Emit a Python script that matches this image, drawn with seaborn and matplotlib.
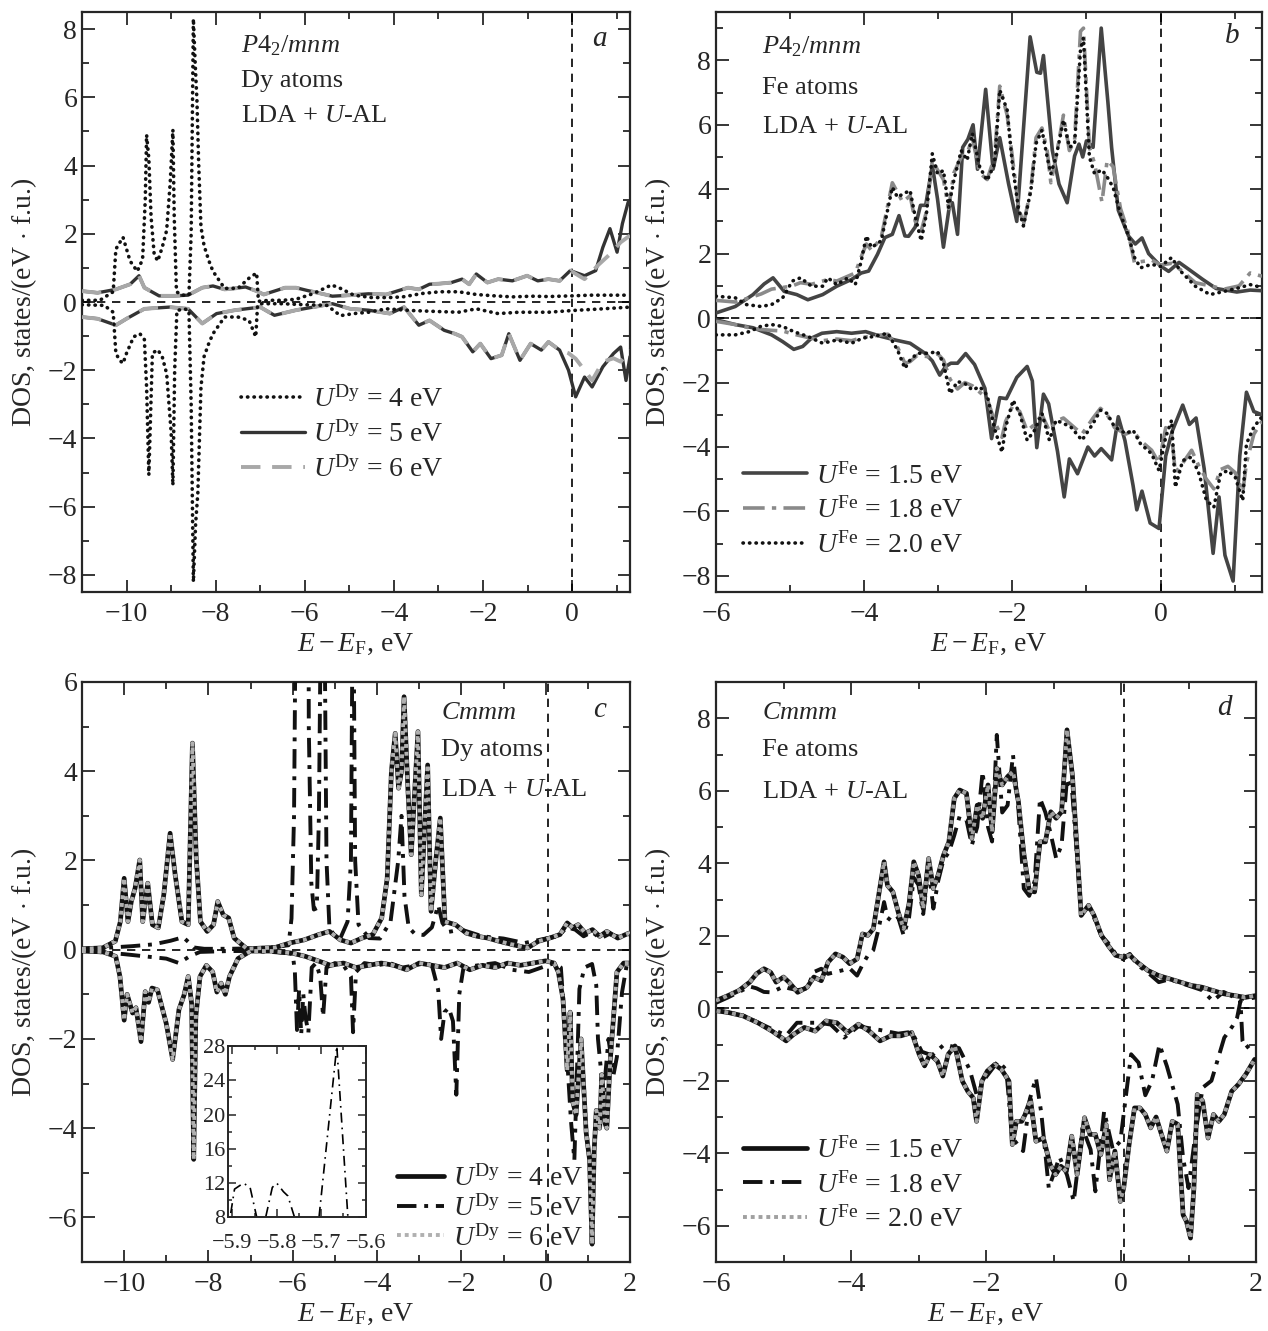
import numpy as np
import matplotlib
matplotlib.use("Agg")
import matplotlib.pyplot as plt
from matplotlib.ticker import MultipleLocator
import seaborn as sns

# ---------------- panel a: P4_2/mnm, Dy atoms ----------------
a_x4_up = [-11.0, -10.6, -10.3, -10.24, -10.08, -9.92, -9.76, -9.64, -9.58, -9.55, -9.5, -9.45, -9.38, -9.3,
           -9.2, -9.1, -9.02, -8.96, -8.93, -8.88, -8.75, -8.6, -8.55, -8.5, -8.46, -8.42, -8.38, -8.33, -8.26,
           -8.15, -8.06, -7.8, -7.5, -7.25, -7.08, -7.04, -6.8, -6.5, -6.2, -5.8, -5.4, -5.2, -4.9, -4.5, -4.1,
           -3.8, -3.36, -2.96, -2.55, -2.15, -1.74, -1.34, -0.9, -0.53, 0.0, 0.4, 0.69, 1.0, 1.3]
a_y4_up = [0.05, 0.05, 0.3, 1.55, 1.9, 1.2, 0.9, 1.25, 3.0, 4.9, 4.2, 2.5, 1.4, 1.2,
           1.6, 2.1, 3.5, 5.05, 2.5, 0.3, 0.2, 0.2, 2.0, 8.3, 7.0, 5.9, 4.0, 2.2, 1.65,
           1.2, 0.9, 0.4, 0.4, 0.7, 0.85, 0.02, 0.05, 0.05, 0.08, 0.25, 0.5, 0.4, 0.2, 0.13, 0.13,
           0.15, 0.25, 0.3, 0.3, 0.22, 0.18, 0.15, 0.17, 0.16, 0.18, 0.2, 0.2, 0.2, 0.2]
a_x4_dn = [-11.0, -10.5, -10.3, -10.24, -10.16, -10.08, -10.0, -9.84, -9.7, -9.6, -9.55, -9.5, -9.42, -9.3,
           -9.2, -9.1, -9.0, -8.96, -8.92, -8.87, -8.7, -8.6, -8.55, -8.5, -8.45, -8.4, -8.33, -8.26, -8.15,
           -8.06, -7.8, -7.5, -7.25, -7.1, -7.06, -7.0, -6.5, -6.0, -5.5, -5.2, -4.9, -4.57, -4.17, -3.6,
           -3.0, -2.55, -2.15, -1.66, -1.2, -0.53, 0.0, 0.69, 1.3]
a_y4_dn = [-0.08, -0.1, -0.3, -1.5, -1.7, -1.8, -1.5, -1.02, -0.93, -1.1, -2.5, -5.07, -1.5, -1.4,
           -1.6, -2.1, -3.8, -5.37, -2.0, -0.25, -0.2, -0.25, -3.0, -8.2, -6.5, -5.6, -2.5, -1.6, -1.2,
           -0.93, -0.44, -0.44, -0.54, -1.02, -0.1, -0.05, -0.05, -0.08, -0.1, -0.4, -0.34, -0.3, -0.2, -0.25,
           -0.28, -0.3, -0.2, -0.34, -0.3, -0.3, -0.25, -0.2, -0.15]

a_x5_up = [-11.0, -10.65, -10.24, -9.92, -9.72, -9.6, -9.27, -8.95, -8.62, -8.3, -8.06, -7.8, -7.57, -7.33,
           -7.08, -6.92, -6.68, -6.44, -6.2, -5.95, -5.71, -5.38, -4.98, -4.57, -4.17, -3.93, -3.68, -3.44,
           -3.2, -2.96, -2.71, -2.47, -2.31, -2.15, -1.9, -1.66, -1.34, -1.01, -0.77, -0.53, -0.28, -0.04,
           0.28, 0.53, 0.69, 0.85, 1.01, 1.13, 1.26, 1.3]
a_y5_up = [0.32, 0.27, 0.37, 0.52, 0.77, 0.42, 0.18, 0.18, 0.2, 0.42, 0.47, 0.37, 0.4, 0.44,
           0.32, 0.22, 0.32, 0.42, 0.42, 0.34, 0.27, 0.17, 0.2, 0.24, 0.22, 0.32, 0.42, 0.37,
           0.52, 0.54, 0.57, 0.67, 0.52, 0.82, 0.57, 0.67, 0.62, 0.77, 0.62, 0.67, 0.62, 0.92,
           0.77, 0.92, 1.6, 2.15, 1.46, 2.3, 2.93, 2.9]
a_x6_up = a_x5_up[:42] + [0.28, 0.6, 0.85, 1.09, 1.3]
a_y6_up = a_y5_up[:42] + [0.67, 1.1, 1.4, 1.75, 1.95]

a_x5_dn = [-11.0, -10.65, -10.24, -10.0, -9.6, -9.04, -8.62, -8.3, -7.98, -7.57, -7.0, -6.68, -6.2, -5.38,
           -4.98, -4.57, -4.09, -3.77, -3.44, -3.2, -2.87, -2.63, -2.47, -2.23, -2.06, -1.82, -1.58, -1.42,
           -1.17, -0.93, -0.69, -0.53, -0.28, -0.08, 0.08, 0.28, 0.45, 0.69, 0.93, 1.09, 1.21, 1.3]
a_y5_dn = [-0.44, -0.49, -0.68, -0.49, -0.2, -0.15, -0.2, -0.63, -0.34, -0.24, -0.15, -0.39, -0.24, -0.05,
           -0.2, -0.24, -0.34, -0.15, -0.68, -0.54, -0.83, -0.93, -1.02, -1.46, -1.22, -1.66, -1.56, -0.93,
           -1.71, -1.22, -1.41, -1.17, -1.41, -2.0, -2.78, -2.2, -2.49, -1.9, -1.51, -1.32, -2.3, -1.6]
a_x6_dn = a_x5_dn[:33] + [-0.08, 0.08, 0.28, 0.45, 0.69, 0.93, 1.09, 1.3]
a_y6_dn = a_y5_dn[:33] + [-1.5, -1.66, -2.0, -2.3, -1.75, -1.65, -1.75, -1.4]

# ---------------- panel b: P4_2/mnm, Fe atoms ----------------
b_x15_up = [-6.0, -5.74, -5.5, -5.35, -5.23, -5.08, -4.91, -4.76, -4.56, -4.37, -4.17, -4.04, -3.94, -3.82,
            -3.72, -3.62, -3.53, -3.45, -3.4, -3.31, -3.24, -3.17, -3.08, -3.01, -2.93, -2.85, -2.81, -2.74,
            -2.67, -2.6, -2.53, -2.47, -2.36, -2.26, -2.17, -2.05, -1.94, -1.76, -1.67, -1.62, -1.58, -1.46,
            -1.37, -1.26, -1.16, -1.1, -1.05, -1.0, -0.91, -0.8, -0.71, -0.66, -0.57, -0.43, -0.34, -0.25,
            -0.16, 0.0, 0.11, 0.25, 0.39, 0.57, 0.75, 1.03, 1.21, 1.37]
b_y15_up = [0.16, 0.36, 0.73, 1.06, 1.25, 0.83, 0.73, 0.57, 0.73, 0.99, 1.2, 1.4, 1.46, 1.98,
            2.5, 2.6, 3.18, 2.55, 2.54, 2.83, 3.5, 3.5, 4.74, 3.7, 2.2, 3.47, 3.58, 2.6,
            5.3, 5.55, 6.0, 4.62, 7.1, 4.62, 5.6, 4.16, 3.0, 8.73, 7.63, 7.6, 8.15, 5.2,
            4.16, 3.58, 5.03, 5.4, 5.0, 5.5, 5.3, 9.0, 6.7, 5.3, 3.35, 2.54, 2.3, 2.49,
            2.0, 1.62, 1.45, 1.73, 1.5, 1.2, 0.92, 0.81, 0.87, 0.85]
b_x15_dn = [-6.0, -5.74, -5.5, -5.25, -5.1, -4.95, -4.83, -4.71, -4.57, -4.37, -4.17, -3.98, -3.77, -3.58,
            -3.38, -3.18, -3.08, -2.98, -2.9, -2.83, -2.74, -2.63, -2.51, -2.37, -2.28, -2.17, -2.08, -1.94,
            -1.8, -1.73, -1.67, -1.58, -1.51, -1.39, -1.3, -1.23, -1.12, -0.98, -0.89, -0.8, -0.66, -0.57,
            -0.48, -0.37, -0.32, -0.25, -0.14, -0.02, 0.07, 0.16, 0.3, 0.39, 0.48, 0.59, 0.71, 0.79, 0.87,
            0.98, 1.07, 1.16, 1.26, 1.37]
b_y15_dn = [-0.05, -0.2, -0.3, -0.52, -0.73, -0.97, -0.88, -0.62, -0.47, -0.42, -0.47, -0.42, -0.57, -0.68,
            -0.78, -1.09, -1.33, -1.77, -1.5, -1.4, -1.4, -1.1, -1.44, -2.18, -3.74, -2.47, -2.5, -1.84,
            -1.5, -1.95, -4.02, -2.36, -2.66, -4.14, -5.55, -4.37, -4.83, -4.0, -4.28, -4.05, -4.4, -3.06,
            -3.8, -5.2, -5.95, -5.37, -6.36, -6.53, -4.28, -3.5, -2.7, -3.3, -3.1, -4.68, -7.3, -5.55, -7.36,
            -8.16, -4.28, -2.3, -2.9, -3.0]

b_x_up = [-6.0, -5.74, -5.59, -5.39, -5.25, -5.1, -4.97, -4.86, -4.71, -4.56, -4.49, -4.37, -4.22, -4.12,
          -4.04, -3.97, -3.9, -3.77, -3.62, -3.55, -3.48, -3.38, -3.31, -3.23, -3.16, -3.08, -3.01, -2.93,
          -2.86, -2.79, -2.69, -2.61, -2.54, -2.44, -2.34, -2.24, -2.17, -2.07, -2.0, -1.92, -1.85, -1.75,
          -1.68, -1.6, -1.53, -1.48, -1.41, -1.31, -1.23, -1.16, -1.08, -1.04, -0.96, -0.89, -0.79, -0.72,
          -0.64, -0.54, -0.44, -0.35, -0.27, -0.12, 0.0, 0.15, 0.27, 0.47, 0.67, 0.86, 1.06, 1.21, 1.37]
b_y20_up = [0.68, 0.63, 0.42, 0.36, 0.42, 0.63, 1.15, 1.25, 0.99, 0.99, 1.25, 1.04, 1.25, 1.04,
            1.77, 2.55, 2.19, 2.4, 4.06, 3.75, 3.85, 3.96, 3.13, 2.4, 3.23, 5.1, 4.48, 4.58,
            3.44, 4.27, 5.2, 4.9, 5.73, 4.69, 4.27, 4.79, 7.08, 6.46, 4.79, 3.44, 2.86, 3.96,
            5.42, 5.83, 5.0, 4.48, 5.0, 6.15, 5.3, 5.4, 8.33, 8.7, 5.0, 4.48, 4.6, 4.38,
            4.06, 3.23, 2.6, 1.88, 1.56, 1.67, 1.6, 1.88, 1.46, 0.99, 0.73, 0.83, 0.94, 1.04, 0.95]
b_y18_up = [0.55, 0.5, 0.6, 0.75, 0.9, 0.95, 1.0, 1.1, 1.05, 1.15, 1.2, 1.15, 1.3, 1.4,
            1.9, 2.3, 2.1, 2.5, 4.2, 3.9, 3.6, 3.8, 3.0, 2.7, 3.3, 4.9, 4.6, 4.3,
            3.4, 4.5, 5.0, 5.1, 5.6, 4.5, 4.3, 5.0, 7.2, 6.3, 5.0, 3.5, 2.9, 4.0,
            5.6, 5.9, 5.2, 4.2, 5.0, 6.3, 5.2, 5.5, 8.9, 9.0, 5.3, 4.8, 3.6, 4.9,
            4.7, 3.4, 2.7, 1.7, 1.75, 1.8, 1.65, 1.7, 1.5, 1.1, 1.0, 0.9, 1.0, 1.4, 1.3]

b_x_dn = [-6.0, -5.74, -5.55, -5.4, -5.25, -5.1, -4.95, -4.76, -4.56, -4.37, -4.17, -4.02, -3.87, -3.68,
          -3.55, -3.45, -3.38, -3.28, -3.13, -3.01, -2.93, -2.84, -2.74, -2.64, -2.54, -2.44, -2.34, -2.24,
          -2.14, -2.09, -1.99, -1.9, -1.8, -1.7, -1.6, -1.5, -1.41, -1.31, -1.21, -1.06, -0.91, -0.81,
          -0.72, -0.62, -0.47, -0.37, -0.27, -0.12, -0.02, 0.07, 0.15, 0.2, 0.3, 0.42, 0.52, 0.62, 0.72,
          0.81, 0.91, 1.01, 1.11, 1.16, 1.26, 1.37]
b_y20_dn = [-0.52, -0.52, -0.42, -0.26, -0.2, -0.26, -0.42, -0.57, -0.78, -0.68, -0.78, -0.62, -0.57, -0.47,
            -0.99, -1.56, -1.3, -1.09, -1.09, -1.04, -1.4, -2.34, -1.97, -2.03, -2.23, -2.13, -2.39, -3.43,
            -4.16, -3.38, -2.55, -2.96, -3.79, -3.48, -2.96, -3.79, -3.17, -3.27, -3.38, -3.79, -3.27, -2.86,
            -2.96, -3.38, -3.58, -3.48, -3.9, -4.21, -4.73, -3.69, -3.17, -5.25, -4.42, -4.31, -4.83, -5.66,
            -5.87, -4.83, -4.73, -4.94, -5.66, -3.9, -3.38, -3.06]
b_y18_dn = [-0.1, -0.2, -0.3, -0.35, -0.38, -0.4, -0.5, -0.6, -0.7, -0.65, -0.7, -0.6, -0.55, -0.5,
            -0.9, -1.4, -1.35, -1.15, -1.2, -1.1, -1.3, -1.9, -2.2, -2.0, -2.1, -2.3, -2.5, -3.2,
            -3.7, -3.2, -2.7, -2.9, -3.5, -3.3, -3.0, -3.5, -3.2, -3.1, -3.3, -3.6, -3.1, -2.8,
            -3.0, -3.4, -3.6, -3.5, -3.8, -4.1, -4.5, -3.4, -3.6, -4.8, -4.5, -4.1, -4.6, -5.0,
            -5.3, -4.7, -4.6, -4.8, -5.4, -4.5, -3.6, -3.2]

# ---------------- panel c: Cmmm, Dy atoms ----------------
# U = 4 eV and U = 6 eV coincide
c_x46_up = [-11.0, -10.51, -10.21, -10.09, -10.0, -9.91, -9.83, -9.74, -9.63, -9.56, -9.44, -9.33, -9.19,
            -9.06, -8.91, -8.79, -8.63, -8.48, -8.38, -8.29, -8.19, -8.03, -7.88, -7.78, -7.65, -7.52,
            -7.39, -7.09, -6.41, -6.07, -5.73, -5.38, -5.13, -4.87, -4.62, -4.36, -4.1, -3.89, -3.76,
            -3.66, -3.57, -3.49, -3.42, -3.36, -3.27, -3.19, -3.03, -2.95, -2.8, -2.72, -2.61, -2.5, -2.39,
            -2.14, -1.88, -1.62, -1.37, -1.11, -0.77, -0.43, -0.17, 0.09, 0.34, 0.51, 0.64, 0.77, 0.94,
            1.11, 1.28, 1.45, 1.71, 1.97, 2.0]
c_y46_up = [0.02, 0.04, 0.19, 0.63, 1.6, 0.63, 1.08, 1.38, 2.01, 0.63, 1.49, 0.56, 0.49,
            1.23, 2.61, 1.68, 0.63, 0.56, 4.63, 2.05, 0.63, 0.41, 0.56, 1.08, 0.78, 0.71,
            0.26, 0.02, 0.05, 0.15, 0.22, 0.34, 0.41, 0.22, 0.15, 0.26, 0.34, 0.71, 1.6,
            4.0, 4.85, 3.62, 4.0, 5.67, 3.62, 2.13, 4.89, 1.23, 4.14, 0.86, 1.98, 2.95, 0.63,
            0.56, 0.37, 0.3, 0.26, 0.19, 0.11, 0.04, 0.19, 0.26, 0.34, 0.6, 0.49, 0.56, 0.37,
            0.45, 0.3, 0.41, 0.26, 0.37, 0.35]
c_x46_dn = [-11.0, -10.5, -10.2, -10.1, -10.0, -9.93, -9.8, -9.72, -9.6, -9.5, -9.42, -9.34, -9.21, -9.0,
            -8.85, -8.7, -8.58, -8.48, -8.4, -8.35, -8.3, -8.2, -8.05, -7.9, -7.8, -7.7, -7.6, -7.5, -7.3,
            -7.0, -6.5, -6.0, -5.7, -5.4, -5.1, -4.8, -4.5, -4.2, -3.9, -3.6, -3.3, -3.0, -2.7, -2.4, -2.1,
            -1.8, -1.5, -1.2, -0.9, -0.6, -0.3, 0.0, 0.2, 0.3, 0.41, 0.51, 0.58, 0.64, 0.72, 0.84, 0.96,
            1.04, 1.1, 1.15, 1.2, 1.28, 1.33, 1.41, 1.45, 1.53, 1.69, 1.85, 2.0]
c_y46_dn = [-0.03, -0.05, -0.15, -0.6, -1.58, -1.0, -1.42, -1.3, -2.06, -0.94, -1.18, -0.86, -0.9, -1.66,
            -2.46, -1.34, -1.02, -0.6, -1.2, -4.7, -1.5, -0.6, -0.35, -0.5, -0.95, -0.75, -1.0, -0.6, -0.2,
            -0.03, -0.03, -0.08, -0.15, -0.25, -0.35, -0.3, -0.4, -0.35, -0.3, -0.35, -0.45, -0.3, -0.35,
            -0.4, -0.3, -0.45, -0.35, -0.4, -0.3, -0.35, -0.3, -0.25, -0.3, -0.5, -1.1, -2.7, -1.4, -3.4,
            -3.7, -2.0, -4.1, -4.7, -6.6, -4.5, -3.6, -4.0, -2.8, -3.9, -4.0, -2.5, -0.5, -0.3, -0.3]

c_x5_up = [-11.0, -10.3, -9.8, -9.3, -8.9, -8.6, -8.45, -8.35, -8.1, -7.5, -7.0, -6.5, -6.1, -6.03, -5.97,
           -5.92, -5.885, -5.84, -5.8, -5.76, -5.72, -5.665, -5.62, -5.56, -5.5, -5.43, -5.38, -5.32, -5.26,
           -5.2, -5.13, -5.0, -4.87, -4.7, -4.62, -4.57, -4.52, -4.44, -4.19, -3.93, -3.68, -3.5, -3.42,
           -3.35, -3.25, -3.1, -2.9, -2.7, -2.55, -2.45, -2.3, -2.0, -1.5, -1.0, -0.5, 0.0, 0.3, 0.5, 0.7,
           0.9, 1.1, 1.3, 1.5, 1.7, 1.9, 2.0]
c_y5_up = [0.02, 0.05, 0.08, 0.12, 0.2, 0.28, 0.15, 0.05, 0.02, 0.02, 0.03, 0.05, 0.1, 0.7, 3.0,
           9.0, 12.0, 7.5, 12.0, 7.5, 6.5, 28.0, 5.0, 1.5, 0.9, 0.93, 3.0, 9.0, 9.0,
           2.0, 0.49, 0.3, 0.26, 0.63, 2.0, 9.0, 2.0, 0.56, 0.26, 0.25, 0.63, 1.98, 3.0,
           1.2, 0.5, 0.35, 0.33, 0.5, 1.0, 0.6, 0.4, 0.45, 0.3, 0.25, 0.15, 0.25, 0.3, 0.5, 0.45,
           0.3, 0.4, 0.25, 0.35, 0.3, 0.25, 0.3]
c_x5_dn = [-11.0, -10.0, -9.5, -9.0, -8.7, -8.45, -8.2, -7.5, -7.0, -6.5, -6.1, -6.0, -5.95, -5.9, -5.85,
           -5.8, -5.75, -5.7, -5.63, -5.55, -5.45, -5.35, -5.28, -5.2, -5.0, -4.8, -4.62, -4.57, -4.5, -4.3,
           -4.0, -3.7, -3.4, -3.1, -2.85, -2.7, -2.55, -2.48, -2.4, -2.3, -2.2, -2.12, -2.05, -1.95, -1.6,
           -1.2, -0.8, -0.4, -0.1, 0.2, 0.36, 0.48, 0.6, 0.68, 0.8, 0.92, 1.1, 1.2, 1.24, 1.37, 1.49, 1.61,
           1.69, 1.81, 1.93, 2.0]
c_y5_dn = [-0.02, -0.1, -0.15, -0.2, -0.3, -0.15, -0.05, -0.03, -0.03, -0.05, -0.08, -0.1, -0.5, -1.8, -0.9,
           -1.9, -1.0, -1.5, -1.86, -0.4, -0.3, -0.6, -1.5, -0.4, -0.3, -0.35, -0.6, -1.85, -0.5, -0.3,
           -0.35, -0.3, -0.4, -0.35, -0.3, -0.35, -0.9, -2.0, -1.4, -1.3, -1.6, -3.25, -1.0, -0.4, -0.35,
           -0.3, -0.45, -0.5, -0.4, -0.3, -0.4, -2.0, -3.84, -4.72, -0.88, -0.4, -0.32, -0.8, -2.0, -3.28,
           -2.0, -2.8, -2.4, -0.96, -0.3, -0.3]

# inset of panel c (U = 5 eV near -5.75 eV)
ins_x = [-5.91, -5.905, -5.895, -5.875, -5.86, -5.845, -5.835, -5.825, -5.81, -5.8, -5.785, -5.775, -5.76,
         -5.74, -5.72, -5.705, -5.665, -5.64, -5.62]
ins_y = [6.0, 8.0, 11.3, 12.0, 11.5, 8.0, 7.5, 8.0, 11.5, 12.0, 11.0, 10.5, 8.0,
         7.0, 7.0, 8.0, 28.0, 8.0, 5.0]

# ---------------- panel d: Cmmm, Fe atoms ----------------
# U = 1.5 eV and U = 2.0 eV coincide
d_x_up = [-6.0, -5.82, -5.66, -5.5, -5.4, -5.29, -5.19, -5.11, -5.0, -4.92, -4.79, -4.65, -4.55, -4.44,
          -4.34, -4.23, -4.12, -4.02, -3.91, -3.83, -3.75, -3.67, -3.59, -3.51, -3.46, -3.38, -3.3, -3.22,
          -3.14, -3.07, -3.0, -2.93, -2.85, -2.78, -2.71, -2.63, -2.55, -2.47, -2.39, -2.29, -2.21, -2.13,
          -2.05, -1.97, -1.91, -1.84, -1.76, -1.68, -1.6, -1.52, -1.44, -1.36, -1.28, -1.2, -1.12, -1.04,
          -0.96, -0.88, -0.8, -0.72, -0.64, -0.59, -0.48, -0.4, -0.29, -0.19, -0.08, 0.03, 0.13, 0.24,
          0.4, 0.56, 0.72, 0.88, 1.04, 1.2, 1.36, 1.52, 1.68, 1.84, 2.0]
d_y15_up = [0.21, 0.35, 0.49, 0.72, 0.95, 1.09, 0.99, 0.72, 0.86, 0.72, 0.44, 0.58, 0.86, 0.76,
            1.27, 1.5, 1.41, 1.23, 1.36, 2.05, 2.01, 2.19, 3.12, 4.04, 3.39, 3.21, 2.65, 2.19,
            2.88, 4.04, 3.67, 2.75, 4.13, 3.3, 3.67, 4.22, 4.59, 5.79, 6.02, 5.93, 4.68, 5.6,
            5.24, 6.16, 4.87, 6.62, 6.16, 6.39, 6.53, 5.7, 4.27, 3.25, 3.21, 4.59, 4.59, 5.42,
            5.24, 5.42, 7.68, 6.43, 4.04, 2.56, 2.84, 2.56, 2.01, 1.73, 1.46, 1.41, 1.46, 1.27,
            1.04, 0.9, 0.81, 0.72, 0.63, 0.58, 0.49, 0.4, 0.35, 0.3, 0.35]
d_y18_up = [0.15, 0.3, 0.45, 0.6, 0.55, 0.45, 0.44, 0.5, 0.6, 0.55, 0.5, 0.55, 1.0, 1.09,
            0.95, 1.0, 1.05, 1.1, 0.9, 1.2, 1.46, 1.6, 2.2, 2.93, 2.5, 2.38, 2.5, 2.01,
            2.5, 3.6, 3.4, 2.6, 3.9, 2.75, 3.5, 4.1, 4.3, 4.77, 5.3, 5.2, 4.5, 5.0,
            6.53, 5.0, 4.6, 7.54, 5.4, 5.6, 6.99, 5.5, 3.3, 3.1, 3.5, 5.79, 5.4, 4.8,
            4.13, 4.5, 6.34, 5.9, 3.9, 2.6, 2.8, 2.5, 2.0, 1.8, 1.5, 1.35, 1.5, 1.2,
            0.98, 0.72, 0.8, 0.7, 0.6, 0.5, 0.2, 0.45, 0.3, 0.25, 0.3]
d_x15_dn = [-5.99, -5.81, -5.6, -5.38, -5.17, -4.96, -4.85, -4.69, -4.53, -4.37, -4.21, -4.05, -3.89, -3.73,
            -3.57, -3.41, -3.26, -3.1, -2.99, -2.91, -2.83, -2.72, -2.64, -2.56, -2.46, -2.35, -2.27, -2.19,
            -2.14, -2.06, -1.98, -1.87, -1.77, -1.66, -1.61, -1.55, -1.47, -1.42, -1.34, -1.26, -1.15, -1.05,
            -0.97, -0.89, -0.81, -0.73, -0.65, -0.54, -0.46, -0.38, -0.3, -0.22, -0.17, -0.09, -0.01, 0.04,
            0.12, 0.2, 0.28, 0.36, 0.44, 0.52, 0.6, 0.68, 0.76, 0.84, 0.92, 0.97, 1.03, 1.08, 1.13, 1.21,
            1.29, 1.37, 1.45, 1.53, 1.64, 1.74, 1.85, 1.98]
d_y15_dn = [-0.07, -0.12, -0.21, -0.4, -0.63, -0.9, -0.72, -0.53, -0.63, -0.35, -0.4, -0.67, -0.44, -0.63,
            -0.9, -0.76, -0.76, -0.67, -1.27, -1.59, -1.27, -1.46, -1.87, -1.27, -1.04, -2.01, -2.29, -2.47,
            -3.12, -2.01, -1.73, -1.55, -1.69, -2.01, -3.76, -3.12, -3.12, -2.93, -2.52, -3.67, -3.58, -4.31,
            -4.59, -4.36, -4.5, -3.53, -4.59, -3.02, -3.48, -3.48, -4.04, -3.21, -4.73, -3.94, -5.33, -4.96,
            -3.76, -2.75, -2.75, -2.93, -3.3, -3.0, -3.48, -3.94, -3.12, -3.2, -5.7, -5.88, -6.34, -4.96,
            -2.38, -2.56, -3.58, -2.93, -3.12, -2.93, -2.29, -2.1, -1.82, -1.41]
d_x18_dn = [-6.0, -5.6, -5.2, -4.96, -4.8, -4.48, -4.3, -4.1, -3.89, -3.57, -3.3, -3.1, -2.95, -2.8, -2.62,
            -2.4, -2.24, -2.14, -2.0, -1.82, -1.7, -1.61, -1.45, -1.35, -1.26, -1.18, -1.07, -0.91, -0.8,
            -0.7, -0.57, -0.45, -0.38, -0.25, -0.12, -0.01, 0.1, 0.15, 0.26, 0.36, 0.46, 0.57, 0.68, 0.84,
            0.92, 1.0, 1.1, 1.21, 1.34, 1.53, 1.65, 1.72, 1.77, 1.8, 1.85, 1.98]
d_y18_dn = [-0.05, -0.2, -0.55, -0.75, -0.4, -0.4, -0.45, -0.81, -0.5, -0.6, -0.7, -0.65, -1.2, -1.3, -1.0,
            -1.1, -1.7, -2.38, -1.9, -1.46, -1.7, -3.58, -3.94, -2.5, -1.92, -2.9, -4.96, -4.1, -4.6,
            -5.33, -3.3, -3.9, -5.05, -2.84, -3.9, -3.67, -2.01, -1.27, -1.5, -2.4, -2.0, -1.0, -1.6, -2.65,
            -4.13, -4.96, -3.5, -2.19, -2.0, -0.81, -0.5, -0.26, 0.2, -0.9, -1.1, -0.9]

# ---------------- style ----------------
sns.set_theme(style="ticks")
plt.rcParams.update({
    "font.family": ["Liberation Serif", "DejaVu Serif"],
    "mathtext.fontset": "custom",
    "mathtext.rm": "Liberation Serif",
    "mathtext.it": "Liberation Serif:italic",
    "mathtext.bf": "Liberation Serif:bold",
    "axes.linewidth": 1.6,
    "font.size": 19,
})
FS = 19

DOTS = (0, (0.1, 1.7))
DASHDOT = (0, (5, 2, 1, 2))
CHECK = (0, (1, 1))


def line(ax, xs, ys, color, lw, ls, label=None, cap="butt", z=3):
    sns.lineplot(x=xs, y=ys, ax=ax, color=color, linewidth=lw, linestyle=ls,
                 sort=False, estimator=None, label=label, dash_capstyle=cap, zorder=z)


def style_axis(ax, xlim, ylim, xv=0.0):
    ax.set_xlim(*xlim)
    ax.set_ylim(*ylim)
    ax.axhline(0, color="black", lw=1.2, ls=(0, (5, 4)), zorder=1)
    ax.axvline(xv, color="black", lw=1.2, ls=(0, (5, 4)), zorder=1)
    ax.xaxis.set_major_locator(MultipleLocator(2))
    ax.xaxis.set_minor_locator(MultipleLocator(1))
    ax.yaxis.set_major_locator(MultipleLocator(2))
    ax.yaxis.set_minor_locator(MultipleLocator(1))
    ax.tick_params(which="both", direction="in", top=True, right=True, labelsize=FS + 1, width=1.3)
    ax.tick_params(which="major", length=9)
    ax.tick_params(which="minor", length=5)
    ax.tick_params(axis="x", pad=7)
    ax.set_xlabel(r"$E-E_{\rm F}$, eV", fontsize=FS + 1, labelpad=4)
    ax.set_ylabel(r"DOS, states/(eV$\,\cdot\,$f.u.)", fontsize=FS + 1, labelpad=6)
    for s in ax.spines.values():
        s.set_linewidth(1.6)


def annotate(ax, lines, fx, fys, letter, lx, ly):
    for t, fy in zip(lines, fys):
        ax.text(fx, fy, t, transform=ax.transAxes, ha="left", va="center", fontsize=FS)
    ax.text(lx, ly, letter, transform=ax.transAxes, ha="center", va="center", fontsize=FS + 2)


fig = plt.figure(figsize=(12.68, 13.31), dpi=100)
W, H = 1268.0, 1331.0


def rect(l, r, t, b):
    return [l / W, 1 - b / H, (r - l) / W, (b - t) / H]


ax_a = fig.add_axes(rect(82, 630, 12, 592))
ax_b = fig.add_axes(rect(716, 1262, 12, 592))
ax_c = fig.add_axes(rect(82, 630, 682, 1262))
ax_d = fig.add_axes(rect(716, 1256, 682, 1262))

LEG = dict(frameon=False, fontsize=FS + 1, handletextpad=0.3, borderaxespad=0)

# ---- a ----
line(ax_a, a_x5_up, a_y5_up, "#333333", 2.4, "-", r"$U^{\rm Dy}$ = 5 eV")
line(ax_a, a_x5_dn, a_y5_dn, "#333333", 2.4, "-")
line(ax_a, a_x6_up, a_y6_up, "#a8a8a8", 2.8, (0, (5, 3)), r"$U^{\rm Dy}$ = 6 eV")
line(ax_a, a_x6_dn, a_y6_dn, "#a8a8a8", 2.8, (0, (5, 3)))
line(ax_a, a_x4_up, a_y4_up, "#111111", 2.6, DOTS, r"$U^{\rm Dy}$ = 4 eV", cap="round", z=4)
line(ax_a, a_x4_dn, a_y4_dn, "#111111", 2.6, DOTS, cap="round", z=4)
style_axis(ax_a, (-11, 1.3), (-8.5, 8.5))
h, l = ax_a.get_legend_handles_labels()
order = [l.index(s) for s in [r"$U^{\rm Dy}$ = 4 eV", r"$U^{\rm Dy}$ = 5 eV", r"$U^{\rm Dy}$ = 6 eV"]]
ax_a.legend([h[i] for i in order], [l[i] for i in order], loc="center left", bbox_to_anchor=(0.27, 0.272),
            handlelength=2.3, labelspacing=0.3, **LEG)
annotate(ax_a, [r"$P\mathrm{4}_{\mathrm{2}}/mnm$", "Dy atoms", r"LDA$\,+\,U$-AL"], 0.29,
         [0.942, 0.881, 0.82], r"$a$", 0.944, 0.953)

# ---- b ----
line(ax_b, b_x15_up, b_y15_up, "#444444", 2.6, "-", r"$U^{\rm Fe}$ = 1.5 eV")
line(ax_b, b_x15_dn, b_y15_dn, "#444444", 2.6, "-")
line(ax_b, b_x_up, b_y18_up, "#8a8a8a", 2.6, (0, (6, 2, 1.2, 2)), r"$U^{\rm Fe}$ = 1.8 eV")
line(ax_b, b_x_dn, b_y18_dn, "#8a8a8a", 2.6, (0, (6, 2, 1.2, 2)))
line(ax_b, b_x_up, b_y20_up, "#111111", 2.6, DOTS, r"$U^{\rm Fe}$ = 2.0 eV", cap="round", z=4)
line(ax_b, b_x_dn, b_y20_dn, "#111111", 2.6, DOTS, cap="round", z=4)
style_axis(ax_b, (-6, 1.37), (-8.5, 9.5))
ax_b.legend(loc="center left", bbox_to_anchor=(0.03, 0.14), handlelength=2.3, labelspacing=0.3, **LEG)
annotate(ax_b, [r"$P\mathrm{4}_{\mathrm{2}}/mnm$", "Fe atoms", r"LDA$\,+\,U$-AL"], 0.085,
         [0.941, 0.869, 0.802], r"$b$", 0.944, 0.958)

# ---- c ----
line(ax_c, c_x46_up, c_y46_up, "#111111", 3.4, "-", r"$U^{\rm Dy}$ = 4 eV")
line(ax_c, c_x46_dn, c_y46_dn, "#111111", 3.4, "-")
line(ax_c, c_x5_up, c_y5_up, "#111111", 2.8, DASHDOT, r"$U^{\rm Dy}$ = 5 eV")
line(ax_c, c_x5_dn, c_y5_dn, "#111111", 2.8, DASHDOT)
line(ax_c, c_x46_up, c_y46_up, "#b0b0b0", 2.8, CHECK, r"$U^{\rm Dy}$ = 6 eV", z=4)
line(ax_c, c_x46_dn, c_y46_dn, "#b0b0b0", 2.8, CHECK, z=4)
style_axis(ax_c, (-11, 2), (-7, 6), xv=0.05)
ax_c.legend(loc="center right", bbox_to_anchor=(0.935, 0.093), handlelength=1.7, labelspacing=0.12, **LEG)
annotate(ax_c, [r"$Cmmm$", "Dy atoms", r"LDA$\,+\,U$-AL"], 0.655,
         [0.946, 0.883, 0.814], r"$c$", 0.945, 0.952)

ins = ax_c.inset_axes([-7.54, -6.0, 3.27, 3.84], transform=ax_c.transData)
sns.lineplot(x=ins_x, y=ins_y, ax=ins, color="black", linewidth=1.2, linestyle=(0, (6, 3, 1, 3)),
             sort=False, estimator=None)
ins.set_xlim(-5.91, -5.6)
ins.set_ylim(8, 28)
ins.xaxis.set_major_locator(MultipleLocator(0.1))
ins.xaxis.set_minor_locator(MultipleLocator(0.05))
ins.yaxis.set_major_locator(MultipleLocator(4))
ins.yaxis.set_minor_locator(MultipleLocator(2))
ins.tick_params(which="both", direction="in", top=True, right=True, labelsize=FS - 3, width=1.1)
ins.tick_params(axis="x", pad=12)
ins.tick_params(axis="y", pad=2)
ins.tick_params(which="major", length=6)
ins.tick_params(which="minor", length=3)
ins.set_xticks([-5.9, -5.8, -5.7, -5.6])
ins.set_xticklabels(["\u22125.9", "\u22125.8", "\u22125.7", "\u22125.6"])
ins.set_xlabel("")
ins.set_ylabel("")
for s in ins.spines.values():
    s.set_linewidth(1.4)

# ---- d ----
line(ax_d, d_x_up, d_y15_up, "#111111", 3.4, "-", r"$U^{\rm Fe}$ = 1.5 eV")
line(ax_d, d_x15_dn, d_y15_dn, "#111111", 3.4, "-")
line(ax_d, d_x_up, d_y18_up, "#111111", 2.8, DASHDOT, r"$U^{\rm Fe}$ = 1.8 eV")
line(ax_d, d_x18_dn, d_y18_dn, "#111111", 2.8, DASHDOT)
line(ax_d, d_x_up, d_y15_up, "#a0a0a0", 2.8, CHECK, r"$U^{\rm Fe}$ = 2.0 eV", z=4)
line(ax_d, d_x15_dn, d_y15_dn, "#a0a0a0", 2.8, CHECK, z=4)
style_axis(ax_d, (-6, 2), (-7, 9), xv=0.05)
ax_d.legend(loc="center left", bbox_to_anchor=(0.03, 0.133), handlelength=2.3, labelspacing=0.3, **LEG)
annotate(ax_d, [r"$Cmmm$", "Fe atoms", r"LDA$\,+\,U$-AL"], 0.085,
         [0.946, 0.883, 0.81], r"$d$", 0.943, 0.955)

fig.savefig("out.png", dpi=100)
